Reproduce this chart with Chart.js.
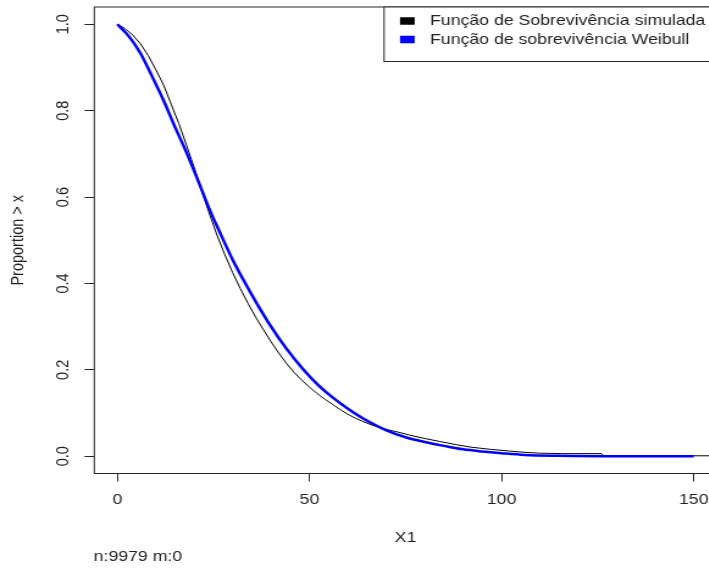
<!DOCTYPE html>
<html>
<head>
<meta charset="utf-8">
<script src="https://cdn.jsdelivr.net/npm/chart.js@4.4.1/dist/chart.umd.min.js"></script>
<style>
  html, body { margin: 0; padding: 0; overflow: hidden; background: #fff; }
  /* the original plot is drawn wider than tall, so stretch the canvas sideways */
  #wrap { width: 600px; height: 568px; transform: scaleX(1.22); transform-origin: 0 0; }
</style>
</head>
<body>
<div id="wrap"><canvas id="chart" width="600" height="568"></canvas></div>
<script>
// empirical survival curve (simulated sample)
const simTime = [0, 2, 4, 6, 8, 10, 12, 14, 16, 18, 20, 22, 24, 26, 28, 30, 32, 34, 36, 38,
  40, 42, 44, 46, 48, 50, 52, 54, 56, 58, 60, 62, 64, 66, 68, 70, 73, 76, 80, 84,
  88, 92, 97, 102, 106, 110, 116, 126, 126.5, 156];
const simSurv = [1.0, 0.99, 0.975, 0.955, 0.928, 0.895, 0.86, 0.815, 0.77, 0.72, 0.668, 0.613, 0.56, 0.51, 0.466, 0.425, 0.388, 0.354, 0.322, 0.293,
  0.265, 0.239, 0.215, 0.194, 0.176, 0.16, 0.145, 0.132, 0.12, 0.108, 0.097, 0.088, 0.08, 0.073, 0.067, 0.062, 0.056, 0.049, 0.041, 0.034,
  0.027, 0.021, 0.016, 0.012, 0.009, 0.007, 0.006, 0.006, 0.001, 0.001];

// fitted Weibull survival curve
const weibTime = [0, 3, 6, 9, 12, 15, 18, 21, 24, 27, 30, 33, 36, 40, 44, 48, 52, 56, 60, 65,
  70, 75, 80, 85, 90, 95, 100, 106, 115, 130, 150];
const weibSurv = [1.0, 0.972, 0.933, 0.88, 0.824, 0.762, 0.703, 0.638, 0.571, 0.512, 0.455, 0.405, 0.358, 0.3, 0.249, 0.205, 0.167, 0.136, 0.11, 0.082,
  0.06, 0.044, 0.033, 0.024, 0.016, 0.011, 0.007, 0.003, 0.001, 0, 0];

const xTicks = [0, 50, 100, 150];
const yTicks = [0, 0.2, 0.4, 0.6, 0.8, 1.0];
const seriesNames = ["Função de Sobrevivência simulada", "Função de sobrevivência Weibull"];
const seriesColors = ["#000000", "#0000ff"];
const sampleNote = "n:9979 m:0";

const FONT = "'Liberation Sans', Arial, sans-serif";
const INK = "#222";

const toPoints = (xs, ys) => xs.map((x, i) => ({x, y: ys[i]}));

// box around the plot, boxed legend and the n/m note under the axis
const rPlotExtras = {
  id: "rPlotExtras",
  afterDraw(chart) {
    const {ctx, chartArea: a} = chart;
    ctx.save();
    ctx.strokeStyle = "#262626";
    ctx.lineWidth = 1;
    ctx.strokeRect(a.left, a.top, a.right - a.left, a.bottom - a.top);

    const lx = 314.8, top = a.top;
    ctx.fillStyle = "#fff";
    ctx.fillRect(lx, top, chart.width, 54.5);
    ctx.strokeRect(lx, top, chart.width, 54.5);
    ctx.font = "14.5px " + FONT;
    ctx.textBaseline = "middle";
    ctx.textAlign = "left";
    chart.data.datasets.forEach((ds, i) => {
      const y = top + 14 + i * 18.5;
      ctx.fillStyle = ds.borderColor;
      ctx.fillRect(327.9, y - 3.75, 12, 7.5);
      ctx.fillStyle = INK;
      ctx.fillText(ds.label, 352.5, y);
    });

    ctx.fillText(sampleNote, a.left - 0.5, 556.7);
    ctx.restore();
  }
};

new Chart(document.getElementById("chart"), {
  type: "line",
  data: {
    datasets: [{
      label: seriesNames[0],
      data: toPoints(simTime, simSurv),
      borderColor: seriesColors[0],
      borderWidth: 1,
      pointRadius: 0,
      order: 2
    }, {
      label: seriesNames[1],
      data: toPoints(weibTime, weibSurv),
      borderColor: seriesColors[1],
      borderWidth: 2.5,
      pointRadius: 0,
      cubicInterpolationMode: "monotone",
      order: 1
    }]
  },
  options: {
    responsive: false,
    animation: false,
    devicePixelRatio: 1,
    layout: { padding: { left: 0, top: 7, right: 12.5, bottom: 0 } },
    plugins: { legend: { display: false }, tooltip: { enabled: false } },
    scales: {
      x: {
        type: "linear",
        min: -6,
        max: 156,
        afterBuildTicks: (s) => { s.ticks = xTicks.map(v => ({value: v})); },
        afterFit: (s) => { s.height = 94.5; s.paddingLeft = 0; s.paddingRight = 0; },
        grid: { drawOnChartArea: false, tickLength: 8, tickColor: "#262626" },
        border: { display: false },
        ticks: { padding: 10, color: INK, font: { family: FONT, size: 14.5 }, maxRotation: 0 },
        title: { display: true, text: "X1", color: INK, font: { family: FONT, size: 14.5 }, padding: { top: 0, bottom: 21.3 } }
      },
      y: {
        min: -0.04,
        max: 1.04,
        afterBuildTicks: (s) => { s.ticks = yTicks.map(v => ({value: v})); },
        afterFit: (s) => { s.width = 77.3; s.paddingTop = 0; s.paddingBottom = 0; },
        grid: { drawOnChartArea: false, tickLength: 8, tickColor: "#262626" },
        border: { display: false },
        ticks: {
          padding: 7.4,
          color: INK,
          font: { family: FONT, size: 14.5 },
          minRotation: 90,
          maxRotation: 90,
          crossAlign: "center",
          callback: (v) => v.toFixed(1)
        },
        title: { display: true, text: "Proportion > x", color: INK, font: { family: FONT, size: 14.5 }, padding: { top: 6.1, bottom: 0 } }
      }
    }
  },
  plugins: [rPlotExtras]
});
</script>
</body>
</html>
